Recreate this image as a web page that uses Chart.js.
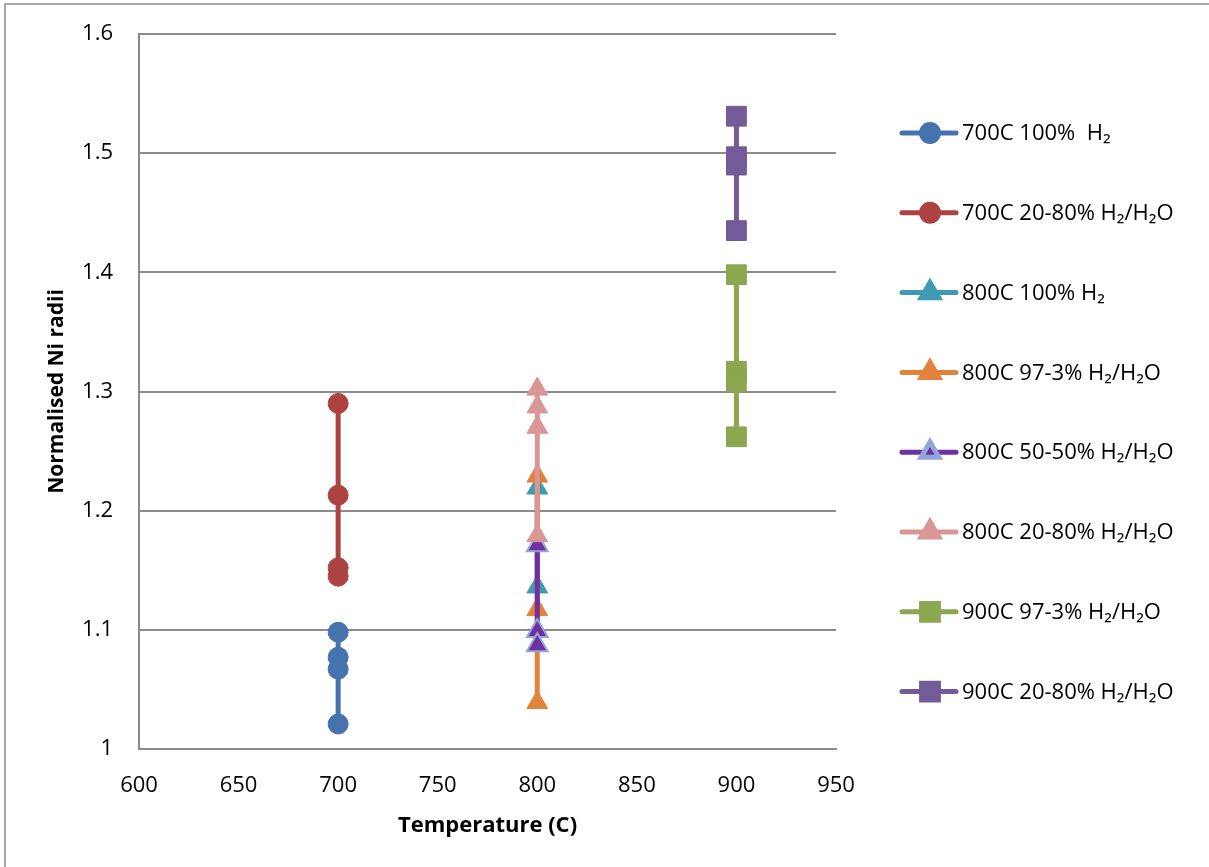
<!DOCTYPE html>
<html lang="en">
<head>
    <meta charset="UTF-8">
    <title>Normalised Ni radii</title>
    <script src="https://cdn.jsdelivr.net/npm/chart.js@4.4.1/dist/chart.umd.min.js"></script>
    <style>
        body {
            margin: 0;
            padding: 0;
            background-color: #fff;
        }
        .chart-box {
            position: relative;
            width: 1209px;
            height: 867px;
        }
    </style>
</head>
<body>
    <div class="chart-box">
        <canvas id="radiiChart" width="1209" height="867"></canvas>
    </div>

    <script>
        // axis ticks
        const xTicks = [600, 650, 700, 750, 800, 850, 900, 950];
        const yTicks = [1, 1.1, 1.2, 1.3, 1.4, 1.5, 1.6];

        // series names
        const seriesNames = [
            '700C 100%  H₂',
            '700C 20-80% H₂/H₂O',
            '800C 100% H₂',
            '800C 97-3% H₂/H₂O',
            '800C 50-50% H₂/H₂O',
            '800C 20-80% H₂/H₂O',
            '900C 97-3% H₂/H₂O',
            '900C 20-80% H₂/H₂O'
        ];

        // measured temperatures and normalised radii
        const temp700 = [700, 700, 700, 700];
        const temp800 = [800, 800, 800, 800];
        const temp900 = [900, 900, 900, 900];

        const r700H2 = [1.098, 1.077, 1.067, 1.021];
        const r700Wet80 = [1.290, 1.213, 1.152, 1.145];
        const r800H2 = [1.219, 1.171, 1.136];
        const r800Wet3 = [1.229, 1.117, 1.039];
        const r800Wet50 = [1.171, 1.099, 1.087];
        const r800Wet80 = [1.302, 1.287, 1.270, 1.179];
        const r900Wet3 = [1.398, 1.317, 1.308, 1.262];
        const r900Wet80 = [1.531, 1.497, 1.490, 1.435];

        const seriesX = [temp700, temp700, temp800, temp800, temp800, temp800, temp900, temp900];
        const seriesY = [r700H2, r700Wet80, r800H2, r800Wet3, r800Wet50, r800Wet80, r900Wet3, r900Wet80];

        const colors = ['#4573AD', '#AC4340', '#3E9BB2', '#E3823A', '#7030A0', '#D99694', '#8BA74F', '#735A98'];
        const markerBorders = ['#4573AD', '#AC4340', '#3E9BB2', '#E3823A', '#92A6DC', '#D99694', '#8BA74F', '#735A98'];
        const markers = ['circle', 'circle', 'triangle', 'triangle', 'triangle', 'triangle', 'rect', 'rect'];
        const markerRadius = { circle: 10, triangle: 12, rect: 14 };

        const FONT = "'Open Sans', 'DejaVu Sans', sans-serif";

        const datasets = seriesNames.map((name, i) => ({
            label: name,
            data: seriesY[i].map((v, j) => ({ x: seriesX[i][j], y: v })),
            showLine: true,
            borderColor: colors[i],
            borderWidth: 5,
            pointStyle: markers[i],
            pointRadius: markerRadius[markers[i]],
            pointBackgroundColor: colors[i],
            pointBorderColor: markerBorders[i],
            pointBorderWidth: i === 4 ? 2 : 1,
            // later series sit on top
            order: seriesNames.length - i
        }));

        // outer frame of the chart
        const frame = {
            id: 'frame',
            beforeDraw(chart) {
                const ctx = chart.ctx;
                ctx.save();
                ctx.strokeStyle = '#8c8c8c';
                ctx.lineWidth = 1.5;
                ctx.strokeRect(5, 4, chart.width + 10, chart.height + 10);
                ctx.restore();
            }
        };

        // legend with a line through each marker
        const lineLegend = {
            id: 'lineLegend',
            afterDraw(chart) {
                const ctx = chart.ctx;
                const area = chart.chartArea;
                const x0 = area.right + 66;
                const y0 = area.top + 99;
                const step = 79.8;
                ctx.save();
                chart.data.datasets.forEach((ds, i) => {
                    const y = y0 + i * step;
                    ctx.strokeStyle = ds.borderColor;
                    ctx.lineWidth = 5;
                    ctx.lineCap = 'round';
                    ctx.beginPath();
                    ctx.moveTo(x0, y);
                    ctx.lineTo(x0 + 54, y);
                    ctx.stroke();
                    ctx.fillStyle = ds.pointBackgroundColor;
                    ctx.strokeStyle = ds.pointBorderColor;
                    Chart.helpers.drawPoint(ctx, {
                        pointStyle: ds.pointStyle,
                        radius: ds.pointRadius * 0.85,
                        borderWidth: ds.pointBorderWidth,
                        rotation: 0
                    }, x0 + 28, y);
                    ctx.fillStyle = '#000';
                    ctx.font = '22px ' + FONT;
                    ctx.textBaseline = 'middle';
                    ctx.textAlign = 'left';
                    ctx.fillText(ds.label, x0 + 60, y + 1);
                });
                ctx.restore();
            }
        };

        new Chart(document.getElementById('radiiChart'), {
            type: 'scatter',
            data: { datasets: datasets },
            options: {
                responsive: false,
                animation: false,
                layout: {
                    padding: { left: 40, top: 34, right: 373, bottom: 24 }
                },
                plugins: {
                    legend: { display: false },
                    tooltip: { enabled: false }
                },
                scales: {
                    x: {
                        type: 'linear',
                        min: 600,
                        max: 950,
                        afterBuildTicks: axis => { axis.ticks = xTicks.map(v => ({ value: v })); },
                        afterFit: axis => { axis.height = 94; },
                        grid: { display: false, drawTicks: false },
                        border: { display: true, color: '#8c8c8c', width: 2 },
                        ticks: {
                            color: '#000',
                            padding: 24,
                            maxRotation: 0,
                            font: { family: FONT, size: 22 }
                        },
                        title: {
                            display: true,
                            text: 'Temperature (C)',
                            color: '#000',
                            padding: { top: 0, bottom: 4 },
                            font: { family: FONT, size: 22, weight: 'bold' }
                        }
                    },
                    y: {
                        type: 'linear',
                        min: 1,
                        max: 1.6,
                        afterBuildTicks: axis => { axis.ticks = yTicks.map(v => ({ value: v })); },
                        afterFit: axis => {
                            axis.width = 99;
                            // label overhang fits inside the layout padding
                            axis.paddingTop = 0;
                            axis.paddingBottom = 0;
                        },
                        grid: { color: '#8c8c8c', lineWidth: 2, drawTicks: false },
                        border: { display: true, color: '#8c8c8c', width: 2 },
                        ticks: {
                            color: '#000',
                            padding: 26,
                            font: { family: FONT, size: 22 },
                            callback: value => String(Math.round(value * 10) / 10)
                        },
                        title: {
                            display: true,
                            text: 'Normalised Ni radii',
                            color: '#000',
                            padding: { top: 4, bottom: 0 },
                            font: { family: "'Liberation Sans Narrow', " + FONT, size: 21, weight: 'bold' }
                        }
                    }
                }
            },
            plugins: [frame, lineLegend]
        });
    </script>
</body>
</html>
